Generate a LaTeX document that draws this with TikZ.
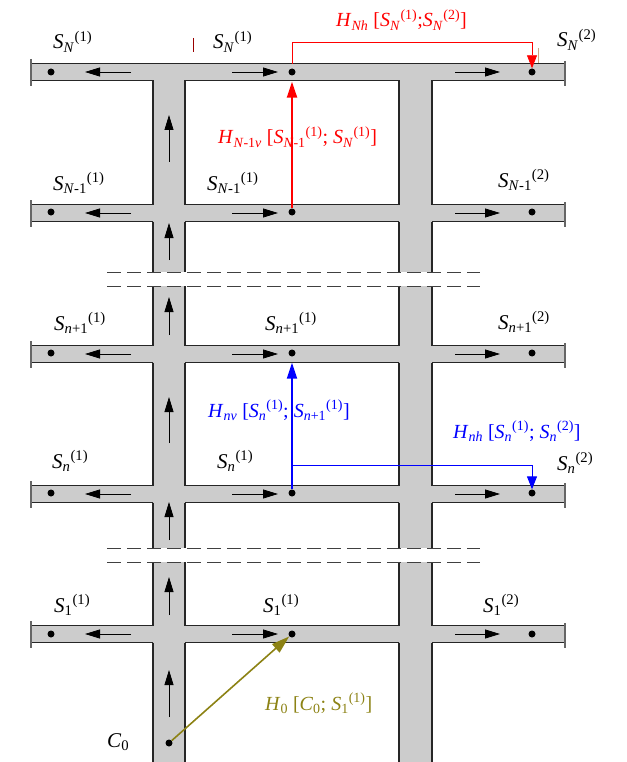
\documentclass[tikz,border=0pt]{standalone}
\usepackage{fontspec}
\setmainfont{Liberation Serif}
\usepackage{tikz}
\usetikzlibrary{positioning,arrows.meta,calc}
\definecolor{roadgray}{RGB}{204,204,204}
\definecolor{hzero}{RGB}{140,130,20}
\newcommand{\Slab}[2]{\textit{S}\textsubscript{#1}\textsuperscript{(#2)}}
\newcommand{\Hlab}[1]{\textit{H}\textsubscript{#1}}

\begin{document}
\begin{tikzpicture}[x=1pt,y=-1pt,
  every node/.style={font=\fontsize{21}{24}\selectfont},
  stop/.style={circle,fill=black,inner sep=0pt,minimum size=7pt},
  flow/.style={-{Triangle[length=15pt,width=9pt]},line width=0.8pt,black},
  wall/.style={line width=1.2pt,black!85},
  lab/.style={anchor=base west,inner sep=0pt},
  hlab/.style={anchor=base west,inner sep=0pt,font=\fontsize{20}{24}\selectfont}]
  \useasboundingbox (0,0) rectangle (626,762);
  % road surface: rows N, N-1, n+1, n, 1 and two columns
  \foreach \y in {72,213,354,494,634}
    \fill[roadgray] (31,\y-8.5) rectangle (565,\y+8.5);
  \foreach \x in {169,415.5}
    \fill[roadgray] (\x-16,63) rectangle (\x+16,762);
  % cut between the rows
  \foreach \y in {272,548}
    \fill[white] (107,\y) rectangle (480,\y+14);
  % kerbs
  \draw[wall] (31,63.5) -- (565,63.5);
  \foreach \y in {213,354,494,634}
    \foreach \a/\b in {31/153,185/399,432/565}
      \draw[wall] (\a,\y-8.5) -- (\b,\y-8.5);
  \foreach \y in {72,213,354,494,634}
    \foreach \a/\b in {31/153,185/399,432/565}
      \draw[wall] (\a,\y+8.5) -- (\b,\y+8.5);
  \foreach \x in {153,185,399,432}
    \foreach \a/\b in {80.5/204.5,221.5/272,286/345.5,362.5/485.5,502.5/548,562/625.5,642.5/762}
      \draw[wall] (\x,\a) -- (\x,\b);
  \foreach \y in {72,213,354,494,634}{
    \draw[wall,black!60] (31,\y-13) -- (31,\y+14);
    \draw[wall,black!60] (565,\y-11) -- (565,\y+14);
  }
  \foreach \y in {272,286,548,562}
    \draw[black!75,line width=0.9pt,dash pattern=on 14pt off 6pt] (107,\y) -- (480,\y);
  % traffic direction
  \foreach \y in {72,213,354,494,634}{
    \draw[flow] (131,\y) -- (85,\y);
    \draw[flow] (232,\y) -- (278,\y);
    \draw[flow] (455,\y) -- (500,\y);
  }
  \foreach \a/\b in {162/115,260/223,335/297,443/397,540/502,615/577,717/670}
    \draw[flow] (169,\a) -- (169,\b);
  % stops
  \foreach \r/\y in {N/72,M/212,P/353,n/493,o/634}{
    \node[stop] (s\r0) at (51,\y) {};
    \node[stop] (s\r1) at (292,\y) {};
    \node[stop] (s\r2) at (532,\y) {};
  }
  \node[stop] (c0) at (169,743) {};
  % stop labels
  \node[lab] (lN0) at (53,49) {\Slab{\textit{N}}{1}};
  \node[lab] (lN1) at (213,49) {\Slab{\textit{N}}{1}};
  \node[lab] (lN2) at (557,47) {\Slab{\textit{N}}{2}};
  \node[lab] (lM0) at (53,190) {\Slab{\textit{N}-1}{1}};
  \node[lab] (lM1) at (207,190) {\Slab{\textit{N}-1}{1}};
  \node[lab] (lM2) at (498,187) {\Slab{\textit{N}-1}{2}};
  \node[lab] (lP0) at (54,330) {\Slab{\textit{n}+1}{1}};
  \node[lab] (lP1) at (265,330) {\Slab{\textit{n}+1}{1}};
  \node[lab] (lP2) at (498,329) {\Slab{\textit{n}+1}{2}};
  \node[lab] (ln0) at (52,468) {\Slab{\textit{n}}{1}};
  \node[lab] (ln1) at (217,468) {\Slab{\textit{n}}{1}};
  \node[lab] (ln2) at (557,470) {\Slab{\textit{n}}{2}};
  \node[lab] (lo0) at (54,612) {\Slab{1}{1}};
  \node[lab] (lo1) at (263,612) {\Slab{1}{1}};
  \node[lab] (lo2) at (483,612) {\Slab{1}{2}};
  \node[lab] (lc0) at (107,747) {\textit{C}\textsubscript{0}};
  % stray marks
  \draw[red!60!black,line width=1pt] (193,38) -- (193,52);
  \draw[orange!60!black!50,line width=0.6pt] (538,48) -- (538,63);
  % transfers
  \coordinate (redtop) at (292,42);
  \coordinate (bluebend) at (292,465);
  \draw[red,line width=0.8pt,-{Triangle[length=13pt,width=10pt]}]
    ($(sN1)+(0,-8)$) |- (redtop -| sN2) -- (sN2);
  \draw[red,line width=2.2pt,shorten >=6pt,-{Triangle[length=16pt,width=10pt]}] (sM1) -- (sN1);
  \draw[blue,line width=2pt,shorten >=6pt,-{Triangle[length=16pt,width=10pt]}] (sn1) -- (sP1);
  \draw[blue,line width=1pt,-{Triangle[length=13pt,width=10pt]}] (bluebend) -| (sn2);
  \draw[hzero,line width=1.6pt,-{Triangle[length=18pt,width=11pt]}] (c0) -- (so1);
  \node[hlab,red] (hNh) at (336,27) {\Hlab{\textit{Nh}} [\Slab{\textit{N}}{1};\Slab{\textit{N}}{2}]};
  \node[hlab,red] (hMv) at (218,144) {\Hlab{\textit{N}-1\textit{v}} [\Slab{\textit{N}-1}{1}; \Slab{\textit{N}}{1}]};
  \node[hlab,blue] (hnv) at (208,417) {\Hlab{\textit{nv}} [\Slab{\textit{n}}{1}; \Slab{\textit{n}+1}{1}]};
  \node[hlab,blue] (hnh) at (453,438) {\Hlab{\textit{nh}} [\Slab{\textit{n}}{1}; \Slab{\textit{n}}{2}]};
  \node[hlab,hzero] (h0) at (265,710) {\Hlab{0} [\textit{C}\textsubscript{0}; \Slab{1}{1}]};
\end{tikzpicture}
\end{document}
